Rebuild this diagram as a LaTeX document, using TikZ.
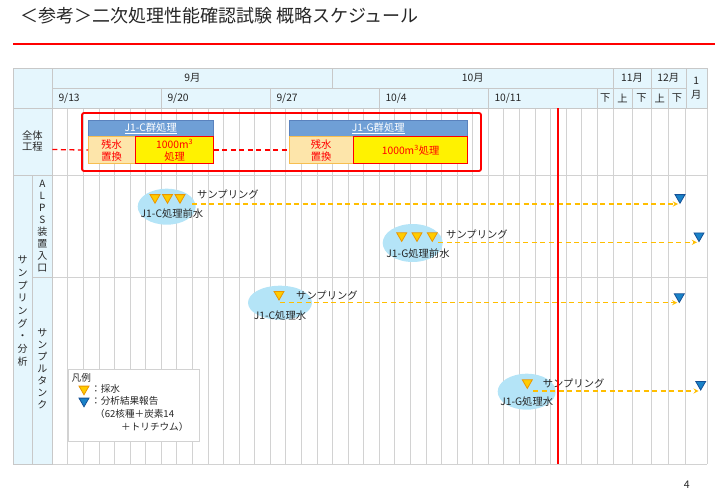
\documentclass[tikz,border=0pt]{standalone}
\usepackage{fontspec}
\setmainfont{Noto Sans CJK JP}
\usetikzlibrary{positioning, shapes.geometric}

\definecolor{hdrblue}{RGB}{229,246,253}
\definecolor{cellgray}{RGB}{200,200,200}
\definecolor{gridgray}{RGB}{210,210,210}
\definecolor{boxblue}{RGB}{111,159,214}
\definecolor{boxline}{RGB}{90,130,190}
\definecolor{peach}{RGB}{253,229,170}
\definecolor{peachline}{RGB}{247,190,80}
\definecolor{sampyellow}{RGB}{255,204,0}
\definecolor{sampline}{RGB}{235,150,0}
\definecolor{repblue}{RGB}{25,130,200}
\definecolor{repline}{RGB}{20,80,150}
\definecolor{spotblue}{RGB}{180,228,247}
\definecolor{arrowgold}{RGB}{255,190,0}

\begin{document}
\begin{tikzpicture}[>=stealth, x=1pt, y=-1pt,
  every node/.style={font=\fontsize{10.3}{12}\selectfont, text=black!85, inner sep=1pt},
  hdr/.style={draw=cellgray, fill=hdrblue},
  gridline/.style={draw=gridgray, line width=0.9pt},
  grpbox/.style={draw=boxline, fill=boxblue, text=white, minimum height=16pt, inner sep=0pt},
  resbox/.style={draw=peachline, fill=peach, text=red, align=center, minimum height=27pt, inner sep=0pt, font=\fontsize{10.3}{12}\selectfont},
  procbox/.style={draw=red, fill=yellow, text=red, align=center, minimum height=27pt, inner sep=0pt, font=\fontsize{10.3}{12}\selectfont},
  spot/.style={ellipse, fill=spotblue, inner sep=0pt},
  samp/.style={regular polygon, regular polygon sides=3, shape border rotate=180, minimum size=11.5pt, inner sep=0pt, fill=sampyellow, draw=sampline, line width=0.8pt},
  rep/.style={samp, fill=repblue, draw=repline},
  flow/.style={->, draw=arrowgold, line width=1.3pt, dash pattern=on 5pt off 3.5pt, shorten >=2pt},
  plan/.style={draw=red, line width=1.3pt, dash pattern=on 5pt off 3.5pt},
  vlab/.style={align=center},
  legtext/.style={anchor=west, font=\fontsize{9.6}{11}\selectfont},
]
\useasboundingbox (0,0) rectangle (720,494);

% title
\node[anchor=west, font=\fontsize{18}{20}\selectfont] (title) at (19,16) {＜参考＞二次処理性能確認試験 概略スケジュール};
\draw[red, line width=2pt] (13,44) -- (715,44);

% body grid
\foreach \k in {0,...,35} \draw[gridline] ({52.3+15.57*\k},108.3) -- ({52.3+15.57*\k},464);
\foreach \x in {613,632,651,668.3,685.7,707} \draw[gridline] (\x,108.3) -- (\x,464);
\foreach \y in {175.5,277.5,464} \draw[gridline] (52.3,\y) -- (707,\y);

% left columns
\path[hdr] (12.7,68.3) rectangle (52.3,108.3);
\path[hdr] (12.7,108.3) rectangle (52.3,175.5);
\path[hdr] (12.7,175.5) rectangle (32.3,464);
\path[hdr] (32.3,175.5) rectangle (52.3,277.5);
\path[hdr] (32.3,277.5) rectangle (52.3,464);
\node[vlab, font=\fontsize{10.3}{11.7}\selectfont] (lbAll) at (32.5,141) {全体\\工程};
\node[vlab, font=\fontsize{10}{11.9}\selectfont] (lbAlps) at (42.3,226) {A\\L\\P\\S\\装\\置\\入\\口};
\node[vlab, font=\fontsize{10}{12}\selectfont] (lbTank) at (42.3,369) {サ\\ン\\プ\\ル\\タ\\ン\\ク};
\node[vlab, font=\fontsize{10}{12.7}\selectfont] (lbSamp) at (22.5,311) {サ\\ン\\プ\\リ\\ン\\グ\\・\\分\\析};

% header: months, weeks, half months
\foreach \a/\b/\t/\n in {52.3/332.6/9月/m9, 332.6/613/10月/m10, 613/651/11月/m11, 651/685.7/12月/m12} {
  \path[hdr] (\a,68.3) rectangle (\b,88.3);
  \node (\n) at ({(\a+\b)/2},78.3) {\t};
}
\path[hdr] (685.7,68.3) rectangle (707,108.3);
\node[vlab, font=\fontsize{10.3}{14}\selectfont] (m1) at (696.3,88.3) {1\\月};
\foreach \a/\b/\mo/\dy/\n in {52.3/161.3/9/13/d1, 161.3/270.3/9/20/d2, 270.3/379.3/9/27/d3, 379.3/488.3/10/4/d4, 488.3/597.3/10/11/d5} {
  \path[hdr] (\a,88.3) rectangle (\b,108.3);
  \node[anchor=west] (\n) at ({\a+5},98.3) {\mo/\dy};
}
\foreach \a/\b/\t/\n in {597.3/613/下/h1, 613/632/上/h2, 632/651/下/h3, 651/668.3/上/h4, 668.3/685.7/下/h5} {
  \path[hdr] (\a,88.3) rectangle (\b,108.3);
  \node (\n) at ({(\a+\b)/2},98.3) {\t};
}

% overall plan
\draw[red, line width=1.8pt, rounded corners=2pt] (82,113) rectangle (481,171);
\node[grpbox, minimum width=125pt, anchor=north west] (hdC) at (88,120) {\underline{J1-C群処理}};
\node[resbox, minimum width=47pt, anchor=north west] (resC) at (hdC.south west) {残水\\置換};
\node[procbox, minimum width=78pt, anchor=north west] (procC) at (resC.north east) {1000m\textsuperscript{3}\\処理};
\node[grpbox, minimum width=178pt, anchor=north west] (hdG) at (289,120) {\underline{J1-G群処理}};
\node[resbox, minimum width=64pt, anchor=north west] (resG) at (hdG.south west) {残水\\置換};
\node[procbox, minimum width=114pt, anchor=north west] (procG) at (resG.north east) {1000m\textsuperscript{3}処理};
\coordinate (planstart) at (52.3,149.5);
\draw[plan] (planstart) -- (resC.west);
\draw[plan] (procC.east) -- (resG.west);

% ALPS inlet: J1-C
\node[spot, minimum width=58pt, minimum height=36pt] (eC1) at (166.7,206.7) {};
\foreach \x [count=\i] in {155,167.5,180} \node[samp] (tC\i) at (\x,197.5) {};
\node (nC1) at (172,214) {J1-C処理前水};
\node[anchor=west] (sC1) at (196,195) {サンプリング};
\node[rep] (rC1) at (680,197.5) {};
\coordinate (aC1) at (192,204);
\draw[flow] (aC1) -- (aC1 -| rC1.south);

% ALPS inlet: J1-G
\node[spot, minimum width=60pt, minimum height=38pt] (eG1) at (412.7,243) {};
\foreach \x [count=\i] in {401.7,417,432.3} \node[samp] (tG\i) at (\x,235.7) {};
\node (nG1) at (418,254) {J1-G処理前水};
\node[anchor=west] (sG1) at (445,235) {サンプリング};
\node[rep] (rG1) at (699,235.8) {};
\coordinate (aG1) at (438,242.3);
\draw[flow] (aG1) -- (aG1 -| rG1.south);

% sample tank: J1-C
\node[spot, minimum width=64pt, minimum height=34pt] (eC2) at (280,302.7) {};
\node[samp] (tC4) at (279,294.3) {};
\node (nC2) at (280,315.7) {J1-C処理水};
\node[anchor=west] (sC2) at (295,296) {サンプリング};
\node[rep] (rC2) at (679.3,296.7) {};
\coordinate (aC2) at (280,302.7);
\draw[flow] (aC2) -- (aC2 -| rC2.south);

% sample tank: J1-G
\node[spot, minimum width=58pt, minimum height=36pt] (eG2) at (526.7,391.7) {};
\node[samp] (tG4) at (527.3,382.7) {};
\node (nG2) at (526.7,401.7) {J1-G処理水};
\node[anchor=west] (sG2) at (541.7,384) {サンプリング};
\node[rep] (rG2) at (700.7,384.3) {};
\coordinate (aG2) at (533,391);
\draw[flow] (aG2) -- (aG2 -| rG2.south);

% today
\draw[red, line width=1.6pt] (558,108.3) -- (558,464);

% legend
\node[draw=gridgray, fill=white, minimum width=131pt, minimum height=71.7pt, anchor=north west] (legend) at (68.3,369) {};
\node[legtext] (lgT) at (70.5,377.7) {凡例};
\node[samp] (lgS) at (84,389) {};
\node[legtext] (lgSt) at (90,389) {：採水};
\node[rep] (lgR) at (84,401) {};
\node[legtext] (lgRt) at (90,401) {：分析結果報告};
\node[legtext] (lgR2) at (94,414.3) {（62核種＋炭素14};
\node[legtext] (lgR3) at (120,426.7) {＋トリチウム）};

\node[font=\fontsize{10.5}{12}\selectfont] (pnum) at (686.7,484.3) {4};
\end{tikzpicture}
\end{document}
